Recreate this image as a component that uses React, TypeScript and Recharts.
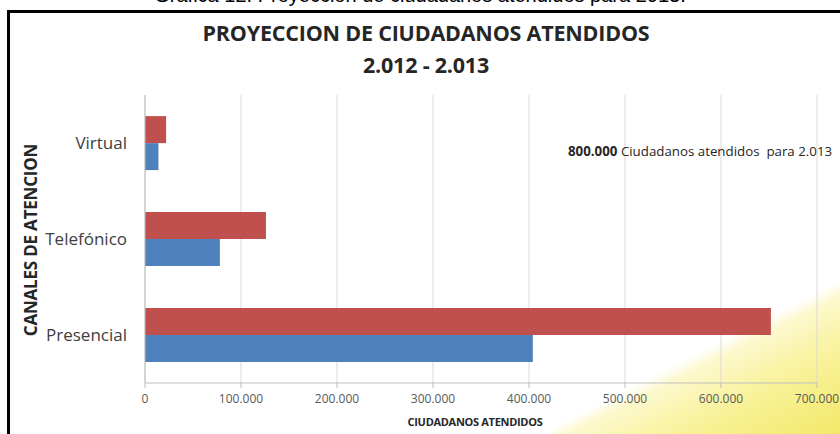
import React from 'react';
import { BarChart, Bar, XAxis, YAxis, CartesianGrid } from 'recharts';

const canales = ['Virtual', 'Telefónico', 'Presencial'];
const atendidos2013 = [22000, 126000, 652000];
const atendidos2012 = [14000, 78000, 404000];
const xTicks = [0, 100000, 200000, 300000, 400000, 500000, 600000, 700000];

const data = canales.map((canal, i) => ({
  canal,
  y2013: atendidos2013[i],
  y2012: atendidos2012[i],
}));

const font = "'Open Sans', sans-serif";

// miles con punto, como en el original
const fmt = (v: number) => String(v).replace(/\B(?=(\d{3})+(?!\d))/g, '.');

const App: React.FC = () => {
  return (
    <div style={{ position: 'absolute', left: 0, top: 0, width: 840, height: 434, overflow: 'hidden', background: '#fff', fontFamily: font }}>
      {/* reflejo amarillo abajo a la derecha */}
      <div
        style={{
          position: 'absolute', left: 550, top: 275, width: 290, height: 159,
          background: 'linear-gradient(153deg, rgba(255,255,255,0) 0%, rgba(255,255,255,0) 50%, rgba(252,248,200,0.9) 55%, #f9f29c 72%, #f3e867 100%)',
        }}
      />
      {/* leyenda cortada arriba */}
      <div style={{ position: 'absolute', left: 0, width: 840, top: -16, textAlign: 'center', fontFamily: "'Liberation Sans', Arial, sans-serif", fontSize: 20, fontWeight: 400, color: '#000', whiteSpace: 'nowrap' }}>
        Gráfica 12. Proyección de ciudadanos atendidos para 2013.
      </div>
      {/* marco */}
      <div style={{ position: 'absolute', left: 7, top: 10, width: 840, height: 440, borderLeft: '3px solid #000', borderTop: '3px solid #000' }} />

      <div style={{ position: 'absolute', left: 0, top: 0 }}>
        <BarChart
          width={840}
          height={434}
          data={data}
          layout="vertical"
          margin={{ top: 95, right: 23, bottom: 0, left: 0 }}
          barCategoryGap="22%"
          barGap={0}
        >
          <CartesianGrid horizontal={false} stroke="#d9d9d9" />
          <XAxis
            type="number"
            domain={[0, 700000]}
            ticks={xTicks}
            interval={0}
            height={51}
            tickFormatter={fmt}
            axisLine={{ stroke: '#bfbfbf' }}
            tickLine={{ stroke: '#bfbfbf' }}
            tickSize={5}
            tickMargin={6}
            tick={{ fill: '#595959', fontSize: 12, fontFamily: font }}
          />
          <YAxis
            type="category"
            dataKey="canal"
            width={145}
            axisLine={{ stroke: '#bfbfbf' }}
            tickLine={false}
            tickSize={6}
            tickMargin={12}
            tick={{ fill: '#404040', fontSize: 17, fontFamily: font }}
          />
          <Bar dataKey="y2013" fill="#c0504d" isAnimationActive={false} />
          <Bar dataKey="y2012" fill="#4f81bd" isAnimationActive={false} />
        </BarChart>
      </div>

      {/* títulos */}
      <div style={{ position: 'absolute', left: 0, width: 852, top: 17, textAlign: 'center', fontSize: 21.5, fontWeight: 700, color: '#262626', letterSpacing: -0.2, lineHeight: '32px' }}>
        PROYECCION DE CIUDADANOS ATENDIDOS
        <br />
        2.012 - 2.013
      </div>
      <div style={{ position: 'absolute', left: 30, top: 240, transform: 'translate(-50%, -50%) rotate(-90deg)', fontSize: 17, fontWeight: 700, color: '#262626', whiteSpace: 'nowrap', letterSpacing: -0.2 }}>
        CANALES DE ATENCION
      </div>
      <div style={{ position: 'absolute', left: 475, top: 421, transform: 'translate(-50%, -50%)', fontSize: 11, fontWeight: 700, color: '#262626', whiteSpace: 'nowrap', letterSpacing: -0.3 }}>
        CIUDADANOS ATENDIDOS
      </div>
      <div style={{ position: 'absolute', left: 568, top: 142, fontSize: 13.3, color: '#262626', whiteSpace: 'pre' }}>
        <b>800.000</b> Ciudadanos atendidos  para 2.013
      </div>
    </div>
  );
};

export default App;
